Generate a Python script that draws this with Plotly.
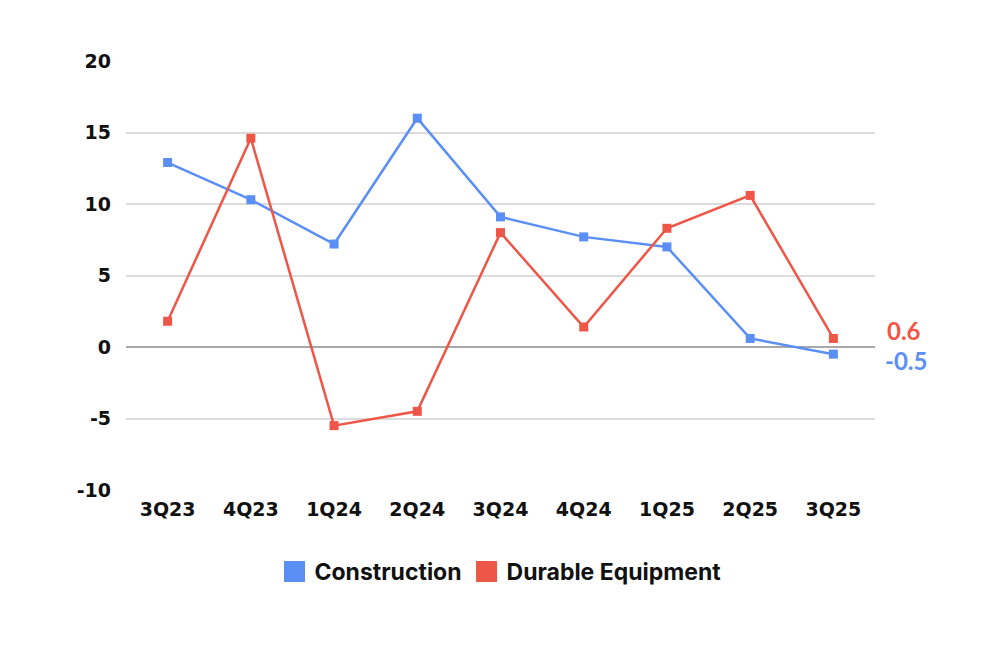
import plotly.graph_objects as go

quarters = ["3Q23", "4Q23", "1Q24", "2Q24", "3Q24", "4Q24", "1Q25", "2Q25", "3Q25"]
construction = [12.9, 10.3, 7.2, 16.0, 9.1, 7.7, 7.0, 0.6, -0.5]
durable_equipment = [1.8, 14.6, -5.5, -4.5, 8.0, 1.4, 8.3, 10.6, 0.6]
y_ticks = [-10, -5, 0, 5, 10, 15, 20]
y_tick_labels = ["-10", "-5", "0", "5", "10", "15", "20"]

BLUE = "#5b8ff5"
RED = "#ee5648"

fig = go.Figure()

fig.add_trace(go.Scatter(
    x=quarters, y=construction, mode="lines+markers", name="Construction",
    line=dict(color=BLUE, width=2.5), marker=dict(symbol="square", size=9, color=BLUE),
    showlegend=False,
))
fig.add_trace(go.Scatter(
    x=quarters, y=durable_equipment, mode="lines+markers", name="Durable Equipment",
    line=dict(color=RED, width=2.5), marker=dict(symbol="square", size=9, color=RED),
    showlegend=False,
))
# legend entries (square swatches)
for name, col in [("Construction", BLUE), ("Durable Equipment", RED)]:
    fig.add_trace(go.Scatter(
        x=[None], y=[None], mode="markers", name=name,
        marker=dict(symbol="square", size=16, color=col, line=dict(color=col, width=5)),
        showlegend=True,
    ))

# end labels
last = quarters[-1]
fig.add_annotation(x=last, y=durable_equipment[-1], text=f"{durable_equipment[-1]:.1f}",
                   showarrow=False, xanchor="left", xshift=52, yshift=8,
                   font=dict(family="Lato", size=24, color=RED, weight="bold"))
fig.add_annotation(x=last, y=construction[-1], text=f"{construction[-1]:.1f}",
                   showarrow=False, xanchor="left", xshift=50, yshift=-6,
                   font=dict(family="Lato", size=24, color=BLUE, weight="bold"))

fig.update_layout(
    width=997, height=664,
    margin=dict(l=118, r=130, t=53, b=182),
    plot_bgcolor="white", paper_bgcolor="white",
    legend=dict(orientation="h", x=0.5, xanchor="center", y=-0.19, yanchor="middle",
                font=dict(family="Inter", size=23, color="#111111", weight="bold"),
                itemsizing="trace", traceorder="normal"),
    xaxis=dict(
        type="category", range=[-0.5, len(quarters) - 0.5],
        showgrid=False, showline=False, zeroline=False,
        tickfont=dict(family="DejaVu Sans", size=19, color="#111111", weight="bold"),
        ticks="", ticklabelstandoff=6,
    ),
    yaxis=dict(
        range=[-10, 20], tickvals=y_ticks, ticktext=y_tick_labels,
        showgrid=True, gridcolor="#dcdcdc", gridwidth=1.5,
        zeroline=True, zerolinecolor="#a8a8a8", zerolinewidth=1.5, showline=False,
        tickfont=dict(family="DejaVu Sans", size=19, color="#111111", weight="bold"),
        ticks="", ticklabelstandoff=14,
    ),
)

fig.write_html("out.html")
